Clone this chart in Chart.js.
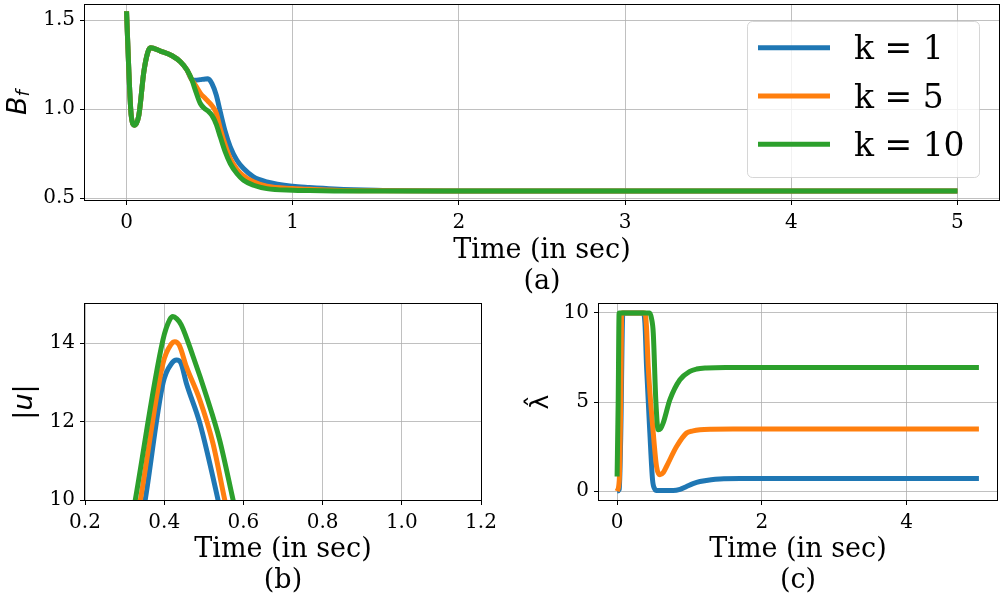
<!DOCTYPE html>
<html><head><meta charset="utf-8">
<script src="https://cdn.jsdelivr.net/npm/chart.js@4.4.1/dist/chart.umd.min.js"></script>
<style>
html,body{margin:0;padding:0;background:#fff;}
#wrap{position:relative;width:1000px;height:600px;overflow:hidden;background:#fff;}
.pane{position:absolute;}
</style></head><body>
<div id="wrap">
<div class="pane" style="left:0;top:0;width:1000px;height:300px"><canvas id="cA" width="1000" height="300"></canvas></div>
<div class="pane" style="left:0;top:300px;width:500px;height:300px"><canvas id="cB" width="500" height="300"></canvas></div>
<div class="pane" style="left:500px;top:300px;width:500px;height:300px"><canvas id="cC" width="500" height="300"></canvas></div>
</div>
<script>
// ---------- data ----------
const seriesLabels = ['k = 1', 'k = 5', 'k = 10'];
const seriesColors = ['#1f77b4', '#ff7f0e', '#2ca02c'];

// (a) B_f vs time
const timeA = [0, 0.014, 0.028, 0.048, 0.074, 0.104, 0.128, 0.144, 0.204, 0.274, 0.324, 0.364, 0.394, 0.414, 0.444, 0.474, 0.49, 0.514, 0.54, 0.564, 0.594, 0.624, 0.664, 0.704, 0.764, 0.844, 1.0, 1.1, 1.25, 1.5, 2.0, 3.0, 4.0, 5.0];
const bfK1  = [1.55, 1.21, 0.966, 0.91, 0.966, 1.21, 1.32, 1.345, 1.326, 1.30, 1.266, 1.22, 1.165, 1.162, 1.166, 1.17, 1.171, 1.144, 1.079, 0.985, 0.873, 0.788, 0.713, 0.667, 0.62, 0.592, 0.567, 0.56, 0.552, 0.545, 0.541, 0.54, 0.54, 0.54];
const bfK5  = [1.55, 1.21, 0.966, 0.91, 0.966, 1.21, 1.32, 1.345, 1.326, 1.30, 1.266, 1.22, 1.163, 1.135, 1.09, 1.06, 1.045, 1.02, 0.978, 0.891, 0.798, 0.723, 0.663, 0.625, 0.592, 0.567, 0.554, 0.55, 0.545, 0.542, 0.54, 0.54, 0.54, 0.54];
const bfK10 = [1.55, 1.21, 0.966, 0.91, 0.966, 1.21, 1.32, 1.345, 1.326, 1.30, 1.266, 1.22, 1.163, 1.107, 1.032, 1.0, 0.99, 0.965, 0.915, 0.845, 0.76, 0.695, 0.639, 0.601, 0.573, 0.554, 0.545, 0.543, 0.541, 0.54, 0.54, 0.54, 0.54, 0.54];
const xTicksA = [0, 1, 2, 3, 4, 5];
const xTickLabelsA = ['0', '1', '2', '3', '4', '5'];
const yTicksA = [0.5, 1.0, 1.5];
const yTickLabelsA = ['0.5', '1.0', '1.5'];

// (b) |u| vs time (zoomed window)
const timeUK1  = [0.335, 0.352, 0.397, 0.42, 0.431, 0.442, 0.456, 0.49, 0.536, 0.555];
const uK1      = [9.0, 10.0, 12.98, 13.5, 13.57, 13.5, 12.98, 11.96, 10.0, 9.1];
const timeUK5  = [0.323, 0.34, 0.397, 0.418, 0.427, 0.438, 0.456, 0.49, 0.523, 0.553, 0.575];
const uK5      = [9.0, 10.0, 13.49, 13.98, 14.04, 13.95, 13.4, 12.55, 11.45, 10.0, 9.0];
const timeUK10 = [0.31, 0.327, 0.397, 0.414, 0.422, 0.432, 0.443, 0.473, 0.507, 0.54, 0.574, 0.596];
const uK10     = [9.0, 10.0, 14.09, 14.6, 14.68, 14.62, 14.47, 13.66, 12.64, 11.53, 10.0, 9.0];
const xTicksB = [0.2, 0.4, 0.6, 0.8, 1.0, 1.2];
const xTickLabelsB = ['0.2', '0.4', '0.6', '0.8', '1.0', '1.2'];
const yTicksB = [10, 12, 14];
const yTickLabelsB = ['10', '12', '14'];

// (c) lambda-hat vs time
const timeLK1  = [0, 0.03, 0.05, 0.08, 0.36, 0.385, 0.407, 0.453, 0.49, 0.52, 0.545, 0.775, 0.87, 0.96, 1.05, 1.145, 1.3, 1.42, 1.7, 2.5, 5.0];
const lamK1    = [0, 0.1, 3.0, 10, 10, 9.4, 7.0, 3.26, 0.63, 0.12, 0.03, 0.03, 0.1, 0.26, 0.42, 0.54, 0.64, 0.68, 0.7, 0.7, 0.7];
const timeLK5  = [0, 0.03, 0.05, 0.065, 0.383, 0.405, 0.43, 0.5, 0.545, 0.591, 0.64, 0.683, 0.822, 0.96, 1.05, 1.145, 1.3, 1.6, 2.5, 5.0];
const lamK5    = [0, 0.6, 5.0, 10, 10, 9.3, 7.0, 3.26, 1.38, 0.92, 1.05, 1.38, 2.5, 3.26, 3.38, 3.44, 3.47, 3.48, 3.48, 3.48];
const timeLK10 = [0, 0.015, 0.028, 0.45, 0.475, 0.5, 0.535, 0.568, 0.6, 0.637, 0.73, 0.868, 1.006, 1.1, 1.237, 1.5, 2.5, 5.0];
const lamK10   = [0.82, 5.0, 10, 10, 9.7, 8.87, 5.1, 3.44, 3.5, 3.82, 5.13, 6.25, 6.72, 6.85, 6.91, 6.94, 6.94, 6.94];
const xTicksC = [0, 2, 4];
const xTickLabelsC = ['0', '2', '4'];
const yTicksC = [0, 5, 10];
const yTickLabelsC = ['0', '5', '10'];

const xTitleText = 'Time (in sec)';
const panelTags = ['(a)', '(b)', '(c)'];

// ---------- helpers ----------
Chart.defaults.font.family = "'DejaVu Serif', serif";
Chart.defaults.color = '#000';

function pts(xs, ys) { return xs.map((x, i) => ({x: x, y: ys[i]})); }
function mkSets(pairs) {
  return pairs.map((p, i) => ({
    label: seriesLabels[i],
    data: pts(p[0], p[1]),
    borderColor: seriesColors[i],
    backgroundColor: seriesColors[i],
    borderWidth: 5,
    pointRadius: 0,
    fill: false,
    tension: 0.4,
    cubicInterpolationMode: 'monotone',
    clip: 0,
    order: pairs.length - 1 - i
  }));
}

const framePlugin = {
  id: 'frame',
  afterDatasetsDraw(chart) {
    const a = chart.chartArea, ctx = chart.ctx;
    ctx.save();
    ctx.strokeStyle = '#000';
    ctx.lineWidth = 1;
    ctx.strokeRect(Math.round(a.left) - 0.5, Math.round(a.top) - 0.5, Math.round(a.right - a.left) + 1, Math.round(a.bottom - a.top) + 1);
    ctx.restore();
  }
};

const yLabelPlugin = {
  id: 'ylab',
  afterDraw(chart, args, opts) {
    if (!opts || !opts.runs) return;
    const ctx = chart.ctx, a = chart.chartArea;
    const cy = (a.top + a.bottom) / 2;
    ctx.save();
    ctx.translate(opts.x, cy);
    ctx.rotate(-Math.PI / 2);
    ctx.fillStyle = '#000';
    ctx.textBaseline = 'alphabetic';
    ctx.textAlign = 'left';
    let w = 0;
    opts.runs.forEach(r => {
      ctx.font = (r.style || 'normal') + ' ' + r.size + "px 'DejaVu Sans'";
      r._w = ctx.measureText(r.t).width;
      w += r._w;
    });
    let x = -w / 2;
    opts.runs.forEach(r => {
      ctx.font = (r.style || 'normal') + ' ' + r.size + "px 'DejaVu Sans'";
      ctx.fillText(r.t, x, r.dy || 0);
      x += r._w;
    });
    ctx.restore();
  }
};

const legendPlugin = {
  id: 'boxlegend',
  afterDraw(chart, args, opts) {
    if (!opts || !opts.show) return;
    const ctx = chart.ctx;
    const bx = 747.5, by = 21.5, bw = 232, bh = 156, r = 5;
    ctx.save();
    ctx.beginPath();
    ctx.moveTo(bx + r, by);
    ctx.arcTo(bx + bw, by, bx + bw, by + bh, r);
    ctx.arcTo(bx + bw, by + bh, bx, by + bh, r);
    ctx.arcTo(bx, by + bh, bx, by, r);
    ctx.arcTo(bx, by, bx + bw, by, r);
    ctx.closePath();
    ctx.fillStyle = 'rgba(255,255,255,0.8)';
    ctx.fill();
    ctx.strokeStyle = 'rgba(204,204,204,0.8)';
    ctx.lineWidth = 1;
    ctx.stroke();
    chart.data.datasets.forEach((ds, i) => {
      const y = 47.7 + i * 48.3;
      ctx.beginPath();
      ctx.strokeStyle = ds.borderColor;
      ctx.lineWidth = 5;
      ctx.lineCap = 'butt';
      ctx.moveTo(758, y);
      ctx.lineTo(830, y);
      ctx.stroke();
      ctx.fillStyle = '#000';
      ctx.font = "33px 'DejaVu Serif'";
      ctx.textBaseline = 'alphabetic';
      ctx.textAlign = 'left';
      ctx.fillText(ds.label, 854, y + 11.6);
    });
    ctx.restore();
  }
};

function axis(kind, min, max, ticks, labels, fitSize, pad, title) {
  const o = {
    type: 'linear', min: min, max: max,
    afterBuildTicks: s => { s.ticks = ticks.map(v => ({value: v})); },
    afterFit: s => {
      if (kind === 'x') { s.height = fitSize; s.paddingLeft = 0; s.paddingRight = 0; }
      else { s.width = fitSize; s.paddingTop = 0; s.paddingBottom = 0; }
    },
    ticks: { font: {size: 20}, color: '#000', padding: pad, autoSkip: false, maxRotation: 0, callback: (v, i) => labels[i] },
    grid: { color: '#b0b0b0', lineWidth: 0.8, tickColor: '#000', tickLength: 5, tickWidth: 1, drawTicks: true },
    border: { display: false }
  };
  if (title) o.title = title;
  return o;
}
function xTitle(tag, padBottom) {
  return { display: true, text: [xTitleText, tag], color: '#000',
           font: {family: "'DejaVu Serif', serif", size: 27, lineHeight: 1.15},
           padding: {top: 0, bottom: padBottom} };
}

function baseOpts(layoutPad, scales, ylab, legendShow) {
  return {
    responsive: false, animation: false, devicePixelRatio: 1,
    layout: { padding: layoutPad },
    scales: scales,
    plugins: { legend: {display: false}, tooltip: {enabled: false},
               ylab: ylab, boxlegend: {show: legendShow} }
  };
}

const plugins = [framePlugin, yLabelPlugin, legendPlugin];

// (a)
new Chart(document.getElementById('cA'), {
  type: 'line',
  data: { datasets: mkSets([[timeA, bfK1], [timeA, bfK5], [timeA, bfK10]]) },
  options: baseOpts({left: 0, right: 1, top: 5, bottom: 0}, {
    x: axis('x', -0.25, 5.25, xTicksA, xTickLabelsA, 100, 6, xTitle(panelTags[0], 2)),
    y: axis('y', 0.49, 1.585, yTicksA, yTickLabelsA, 85, 5)
  }, {x: 26, runs: [{t: 'B', size: 27, style: 'italic'}, {t: 'f', size: 18, style: 'italic', dy: 3}]}, true),
  plugins: plugins
});

// (b)
new Chart(document.getElementById('cB'), {
  type: 'line',
  data: { datasets: mkSets([[timeUK1, uK1], [timeUK5, uK5], [timeUK10, uK10]]) },
  options: baseOpts({left: 0, right: 19, top: 4, bottom: 0}, {
    x: axis('x', 0.2, 1.2, xTicksB, xTickLabelsB, 100, 6, xTitle(panelTags[1], 3)),
    y: axis('y', 10, 15, yTicksB, yTickLabelsB, 85, 5)
  }, {x: 32, runs: [{t: '|', size: 27}, {t: 'u', size: 27, style: 'italic'}, {t: '|', size: 27}]}, false),
  plugins: plugins
});

// (c)
new Chart(document.getElementById('cC'), {
  type: 'line',
  data: { datasets: mkSets([[timeLK1, lamK1], [timeLK5, lamK5], [timeLK10, lamK10]]) },
  options: baseOpts({left: 0, right: 3, top: 4, bottom: 0}, {
    x: axis('x', -0.25, 5.25, xTicksC, xTickLabelsC, 100, 6, xTitle(panelTags[2], 3)),
    y: axis('y', -0.5, 10.5, yTicksC, yTickLabelsC, 99, 5)
  }, {x: 48, runs: [{t: '\u03BB\u0302', size: 25}]}, false),
  plugins: plugins
});
</script>
</body></html>
